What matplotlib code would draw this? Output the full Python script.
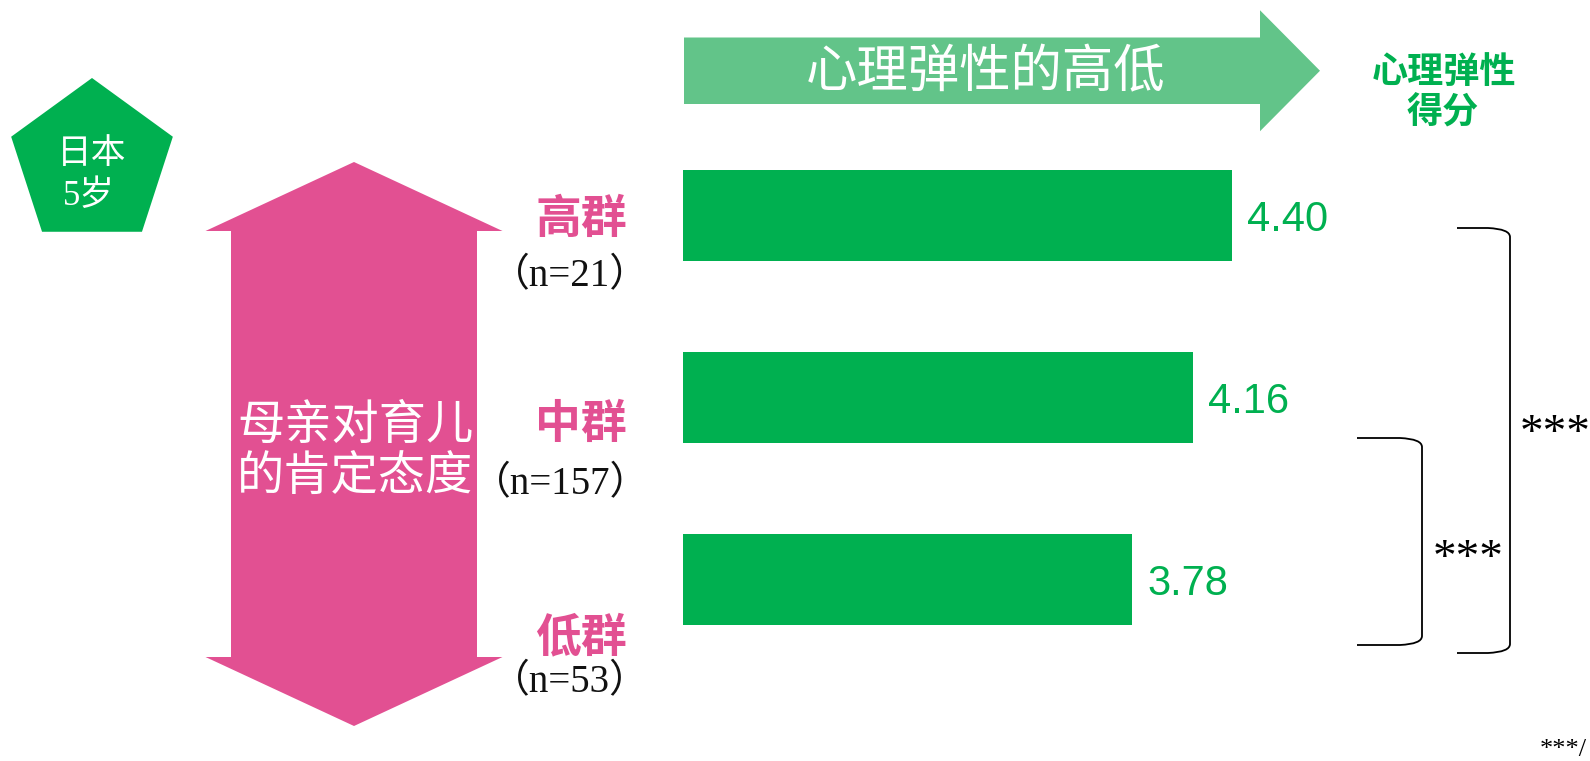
import matplotlib

matplotlib.use("Agg")
import matplotlib.patches as mpatches
import matplotlib.pyplot as plt
import numpy as np
from matplotlib.path import Path

# data
groups = ["高群", "中群", "低群"]
group_n = [21, 157, 53]
scores = [4.40, 4.16, 3.78]
sig_pairs = [(1, 2), (0, 2)]
sig_labels = ["***", "***"]

GREEN = "#00B050"
ARROW_GREEN = "#62C489"
PINK = "#E25092"
CJK = ["Noto Sans CJK SC", "DejaVu Sans"]
SERIF_MIX = ["Liberation Serif", "Noto Sans CJK SC"]

W, H = 1590, 761
fig = plt.figure(figsize=(W / 100, H / 100), dpi=100)
fig.patch.set_facecolor("white")

# pixel-space overlay for the decorations
ov = fig.add_axes([0, 0, 1, 1])
ov.set_xlim(0, W)
ov.set_ylim(H, 0)
ov.axis("off")

# bar panel: x axis runs 1..5, bars start at 1
bx = fig.add_axes([683.3 / W, (H - 670) / H, 645.2 / W, 546 / H])
bx.set_xlim(1, 5)
bx.set_ylim(2.5, -0.5)
bx.axis("off")
ypos = np.arange(len(scores))
bx.barh(ypos, [s - 1 for s in scores], left=1, height=0.5, color=GREEN)
for y, s in zip(ypos, scores):
    bx.annotate(f"{s:.2f}", (s, y), xytext=(11, -3.5), textcoords="offset points",
                ha="left", va="center", fontsize=30, color=GREEN,
                family=["Liberation Sans", "DejaVu Sans"])

# top arrow
ov.add_patch(mpatches.FancyArrow(684, 70.75, 636, 0, width=66.5, head_width=121,
                                  head_length=60, length_includes_head=True,
                                  color=ARROW_GREEN, lw=0))
ov.text(986, 73, "心理弹性的高低", ha="center", va="center", fontsize=37,
        color="white", family=CJK)

# right title
ov.text(1444, 72, "心理弹性", ha="center", va="center", fontsize=26,
        color=GREEN, family=CJK, fontweight="bold")
ov.text(1443, 113, "得分", ha="center", va="center", fontsize=26,
        color=GREEN, family=CJK, fontweight="bold")

# pentagon badge
ov.add_patch(mpatches.RegularPolygon((92, 163), 5, radius=85, orientation=np.pi,
                                     color=GREEN, lw=0))
ov.text(92, 153, "日本", ha="center", va="center", fontsize=25, color="white", family=CJK)
ov.text(89, 197, "5岁", ha="center", va="center", fontsize=25, color="white", family=SERIF_MIX)

# pink double arrow
ov.add_patch(mpatches.FancyArrow(354, 500, 0, -338, width=246, head_width=297,
                                 head_length=69, length_includes_head=True,
                                 color=PINK, lw=0))
ov.add_patch(mpatches.FancyArrow(354, 390, 0, 336, width=246, head_width=297,
                                 head_length=69, length_includes_head=True,
                                 color=PINK, lw=0))
ov.text(355, 426, "母亲对育儿", ha="center", va="center", fontsize=34, color="white", family=CJK)
ov.text(355, 477, "的肯定态度", ha="center", va="center", fontsize=34, color="white", family=CJK)

# group labels
label_y = [220, 425, 638]
n_y = [277, 485, 683]
for g, n, ly, ny in zip(groups, group_n, label_y, n_y):
    ov.text(627, ly, g, ha="right", va="center", fontsize=33, color=PINK,
            family=CJK, fontweight="bold")
    ov.text(649, ny, f"（n={n}）", ha="right", va="center", fontsize=28,
            color="#111111", family=SERIF_MIX)


def bracket(x0, x1, top, bottom):
    r = 9
    verts = [(x0, top), (x1 - 22, top), (x1, top + 1), (x1, top + r),
             (x1, bottom - r), (x1, bottom - 1), (x1 - 22, bottom), (x0, bottom)]
    codes = [Path.MOVETO, Path.LINETO, Path.CURVE3, Path.CURVE3,
             Path.LINETO, Path.CURVE3, Path.CURVE3, Path.LINETO]
    ov.add_patch(mpatches.PathPatch(Path(verts, codes), fill=False, lw=1.3, ec="black"))


# significance brackets
brackets = [(1357, 1422, 438, 645), (1457, 1510, 228, 653)]
star_xy = [(1433, 548), (1520, 423)]
for (x0, x1, t, b), (sx, sy), lab in zip(brackets, star_xy, sig_labels):
    bracket(x0, x1, t, b)
    ov.text(sx, sy + 12, lab, ha="left", va="center", fontsize=34, color="black",
            family=["Liberation Serif"])

# footnote, only its start fits in the frame
ov.text(1587, 750, "***/", ha="right", va="center", fontsize=19, color="black",
        family=["Liberation Serif"])

fig.savefig("out.png", dpi=100, facecolor="white")
